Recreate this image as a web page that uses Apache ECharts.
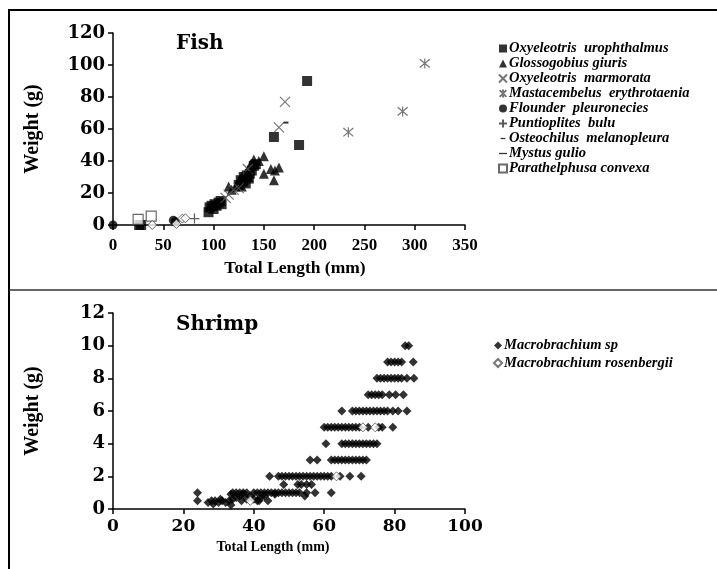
<!DOCTYPE html>
<html>
<head>
<meta charset="utf-8">
<script src="https://cdn.jsdelivr.net/npm/echarts@6/dist/echarts.min.js"></script>
<style>
  html, body { margin: 0; padding: 0; background: #fff; }
  #chart { width: 717px; height: 569px; }
</style>
</head>
<body>
<div id="chart"></div>
<script>
// ---- fish data: [total length (mm), weight (g)] ----
var urophthalmus = [[26, 0], [28, 0], [95, 8], [96, 11], [98, 12], [100, 10], [101, 13], [103, 12],
  [105, 14], [107, 15], [108, 13], [125, 25], [127, 28], [129, 27], [130, 30], [132, 26], [133, 31],
  [135, 29], [136, 32], [138, 34], [140, 37], [142, 38], [160, 55], [185, 50], [193, 90]];
var giuris = [[115, 24], [118, 22], [122, 24], [125, 27], [128, 24], [128, 30], [130, 28], [133, 33],
  [135, 30], [137, 38], [140, 41], [141, 38], [145, 40], [150, 43], [150, 32], [157, 35], [160, 28],
  [161, 34], [165, 36]];
var marmorata = [[112, 17], [115, 19], [120, 22], [125, 23], [134, 35], [165, 61], [171, 77]];
var erythrotaenia = [[234, 58], [288, 71], [310, 101]];
var pleuronecies = [[0, 0], [60, 3], [62, 2]];
var bulu = [[81, 4]];
var melanopleura = [[172, 64]];
var gulio = [[135, 33]];
var convexa = [[25, 3.5], [38, 5.5]];
var fishOther = [[39, 0], [63, 0.6], [69, 4], [72, 4.2]];

// ---- shrimp data ----
var shrimpSp = [
  [83, 10], [84, 10],
  [78, 9], [79, 9], [80, 9], [81, 9], [82, 9], [85.3, 9],
  [75, 8], [76, 8], [77, 8], [78, 8], [79, 8], [80, 8], [81, 8], [82, 8], [83.5, 8], [85.5, 8],
  [72.5, 7], [73.5, 7], [74.5, 7], [75.5, 7], [76.5, 7], [78.5, 7], [80.3, 7], [82.5, 7],
  [65, 6], [68, 6], [69, 6], [70, 6], [71, 6], [72, 6], [73, 6], [74, 6], [75, 6], [76, 6], [77, 6],
  [78, 6], [79.5, 6], [81, 6], [83.5, 6],
  [60, 5], [61, 5], [62, 5], [63, 5], [64, 5], [65, 5], [66, 5], [67, 5], [68, 5], [69, 5], [70, 5],
  [72.5, 5], [75.5, 5], [76.5, 5], [79.5, 5],
  [60.5, 4], [65, 4], [66, 4], [67, 4], [68, 4], [69, 4], [70, 4], [71, 4], [72, 4], [73, 4], [74, 4], [75, 4],
  [56, 3], [58, 3], [62, 3], [63, 3], [64, 3], [65, 3], [66, 3], [67, 3], [68, 3], [69, 3], [70, 3], [71, 3], [72, 3],
  [44.5, 2], [47, 2], [48, 2], [49, 2], [50, 2], [51, 2], [52, 2], [53, 2], [54, 2], [55, 2], [56, 2],
  [57, 2], [58, 2], [59, 2], [60, 2], [61, 2], [62, 2], [64.5, 2], [67.3, 2], [70.5, 2],
  [48.5, 1.5], [52.5, 1.5], [53.5, 1.5], [55, 1.5], [56.4, 1.5],
  [34, 1], [35, 1], [36, 1], [37, 1], [38, 1], [40, 1], [41, 1], [42, 1], [43, 1], [44, 1], [45, 1],
  [46, 1], [47, 1], [48, 1], [49, 1], [50, 1], [51, 1], [52, 1], [53, 1], [55, 1], [57.4, 1], [62, 1],
  [24, 1], [24, 0.5], [27, 0.4], [28, 0.5], [28.5, 0.3], [29, 0.5], [30, 0.4], [30.5, 0.6], [31, 0.5],
  [32, 0.4], [33, 0.5], [33.5, 0.25], [33.5, 0.9], [34, 0.6], [35, 0.7], [36, 0.8], [36.5, 0.5],
  [37, 0.9], [38, 0.6], [39, 0.8], [40, 0.6], [41, 0.5], [42, 0.7], [43, 0.8], [44, 0.5], [46, 0.9],
  [54.5, 0.8], [41.5, 0.5]
];
var shrimpRosenbergii = [[39, 0.5], [63.5, 2], [71, 5], [74.5, 5]];

var fishXTicks = { min: 0, max: 350, interval: 50 };
var fishYTicks = { min: 0, max: 120, interval: 20 };
var shrimpXTicks = { min: 0, max: 100, interval: 20 };
var shrimpYTicks = { min: 0, max: 12, interval: 2 };

var chart = echarts.init(document.getElementById("chart"));

var tickFont = { fontFamily: "DejaVu Serif", fontWeight: "bold", fontSize: 18, color: "#000" };
var fishXFont = { fontFamily: "Liberation Serif", fontWeight: "bold", fontSize: 17, color: "#000" };
var shrimpXFont = { fontFamily: "DejaVu Serif", fontWeight: "bold", fontSize: 17, color: "#000" };
var legendFont = { fontFamily: "Liberation Serif", fontWeight: "bold", fontStyle: "italic", fontSize: 14.5, color: "#000" };
var yNameFont = { fontFamily: "Liberation Serif", fontWeight: "bold", fontSize: 20, color: "#000" };

function axisBase(t, grid, extra) {
  var a = {
    type: "value",
    gridIndex: grid,
    min: t.min,
    max: t.max,
    interval: t.interval,
    axisLine: { show: true, lineStyle: { color: "#000", width: 1.5 } },
    axisTick: { show: true, length: 5, lineStyle: { color: "#000", width: 1.5 } },
    splitLine: { show: false },
    axisLabel: Object.assign({ margin: 8 }, tickFont),
    nameLocation: "middle"
  };
  return Object.assign(a, extra);
}

var crossPath = "path://M0,0L10,10M10,0L0,10";
var starPath = "path://M0,0L10,10M10,0L0,10M5,-1L5,11";
var plusPath = "path://M5,0L5,10M0,5L10,5";
// dashes drawn inside a square box so the legend icon keeps its shape
var shortDash = "path://M2,4.2L8,4.2L8,5.8L2,5.8Z M0,0L0,0 M10,10L10,10";
var longDash = "path://M0,4.2L10,4.2L10,5.8L0,5.8Z M0,0L0,0 M10,10L10,10";

function sc(name, data, xi, symbol, size, style) {
  return {
    name: name,
    type: "scatter",
    xAxisIndex: xi,
    yAxisIndex: xi,
    data: data,
    symbol: symbol,
    symbolSize: size,
    itemStyle: style,
    emphasis: { disabled: true }
  };
}

var fishNames = ["Oxyeleotris  urophthalmus", "Glossogobius giuris", "Oxyeleotris  marmorata",
  "Mastacembelus  erythrotaenia", "Flounder  pleuronecies", "Puntioplites  bulu",
  "Osteochilus  melanopleura", "Mystus gulio", "Parathelphusa convexa"];
var shrimpNames = ["Macrobrachium sp", "Macrobrachium rosenbergii"];

var option = {
  animation: false,
  backgroundColor: "#fff",
  graphic: [
    { type: "line", shape: { x1: 8, y1: 10, x2: 717, y2: 10 }, style: { stroke: "#000", lineWidth: 2 } },
    { type: "line", shape: { x1: 9, y1: 10, x2: 9, y2: 569 }, style: { stroke: "#000", lineWidth: 2 } },
    { type: "line", shape: { x1: 9, y1: 290, x2: 717, y2: 290 }, style: { stroke: "#333", lineWidth: 1.5 } }
  ],
  title: [
    { text: "Fish", left: 171, top: 29, textStyle: { fontFamily: "DejaVu Serif", fontWeight: "bold", fontSize: 20, color: "#000" } },
    { text: "Shrimp", left: 171, top: 310, textStyle: { fontFamily: "DejaVu Serif", fontWeight: "bold", fontSize: 20, color: "#000" } }
  ],
  legend: [
    {
      data: fishNames.map(function (n, i) {
        if (i === 6) return { name: n, icon: shortDash };
        if (i === 7) return { name: n, icon: longDash };
        return n;
      }),
      orient: "vertical", left: 493, top: 36,
      itemWidth: 8, itemHeight: 8, itemGap: 0,
      textStyle: Object.assign({ lineHeight: 13.5, padding: [0, 0, 0, -3] }, legendFont)
    },
    {
      data: shrimpNames, orient: "vertical", left: 488, top: 333,
      itemWidth: 8, itemHeight: 8, itemGap: 2.5,
      textStyle: Object.assign({ lineHeight: 13.5, padding: [0, 0, 0, -3] }, legendFont)
    }
  ],
  grid: [
    { left: 113, top: 33, width: 352, height: 192 },
    { left: 113, top: 313, width: 352, height: 196 }
  ],
  xAxis: [
    axisBase(fishXTicks, 0, {
      name: "Total Length (mm)", nameGap: 34,
      nameTextStyle: { fontFamily: "Liberation Serif", fontWeight: "bold", fontSize: 17.5, color: "#000", padding: [0, 0, 0, 12] },
      axisLabel: Object.assign({ margin: 12 }, fishXFont)
    }),
    axisBase(shrimpXTicks, 1, {
      name: "Total Length (mm)", nameGap: 31,
      nameTextStyle: { fontFamily: "Liberation Serif", fontWeight: "bold", fontSize: 14, color: "#000", padding: [0, 32, 0, 0] },
      axisLabel: Object.assign({ margin: 9 }, shrimpXFont)
    })
  ],
  yAxis: [
    axisBase(fishYTicks, 0, { name: "Weight (g)", nameGap: 70, nameTextStyle: yNameFont }),
    axisBase(shrimpYTicks, 1, { name: "Weight (g)", nameGap: 70, nameTextStyle: yNameFont })
  ],
  series: [
    sc(fishNames[0], urophthalmus, 0, "rect", 10, { color: "#000" }),
    sc(fishNames[1], giuris, 0, "triangle", 10, { color: "#000" }),
    sc(fishNames[2], marmorata, 0, crossPath, 10, { color: "transparent", borderColor: "#555", borderWidth: 1.2 }),
    sc(fishNames[3], erythrotaenia, 0, starPath, 10, { color: "transparent", borderColor: "#555", borderWidth: 1.2 }),
    sc(fishNames[4], pleuronecies, 0, "circle", 9, { color: "#000" }),
    sc(fishNames[5], bulu, 0, plusPath, 10, { color: "transparent", borderColor: "#333", borderWidth: 1.2 }),
    sc(fishNames[6], melanopleura, 0, "rect", [5, 2], { color: "#000" }),
    sc(fishNames[7], gulio, 0, "rect", [9, 2], { color: "#000" }),
    sc(fishNames[8], convexa, 0, "rect", 10, { color: "#fff", borderColor: "#444", borderWidth: 1.2 }),
    sc("other", fishOther, 0, "diamond", 9, { color: "#fff", borderColor: "#444", borderWidth: 1 }),
    sc(shrimpNames[0], shrimpSp, 1, "diamond", 9, { color: "#000" }),
    sc(shrimpNames[1], shrimpRosenbergii, 1, "diamond", 9, { color: "#fff", borderColor: "#555", borderWidth: 1 })
  ]
};

chart.setOption(option);
</script>
</body>
</html>
